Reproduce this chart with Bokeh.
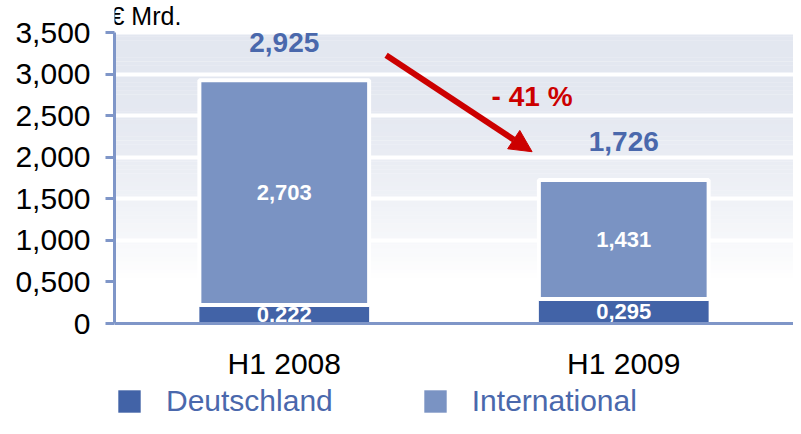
from bokeh.plotting import figure
from bokeh.models import (ColumnDataSource, FactorRange, Range1d, FixedTicker, BoxAnnotation,
                          Arrow, NormalHead, Legend, LegendItem, Span)
from bokeh.core.properties import value
from bokeh.embed import file_html
from bokeh.resources import INLINE

# ---------------- data ----------------
periods = ["H1 2008", "H1 2009"]
deutschland = [0.222, 0.295]
international = [2.703, 1.431]
totals = [2.925, 1.726]
deutschland_labels = ["0,222", "0,295"]
international_labels = ["2,703", "1,431"]
total_labels = ["2,925", "1,726"]
y_ticks = [0, 0.5, 1.0, 1.5, 2.0, 2.5, 3.0, 3.5]
y_tick_labels = ["0", "0,500", "1,000", "1,500", "2,000", "2,500", "3,000", "3,500"]
unit_label = "€ Mrd."
series_names = ["Deutschland", "International"]

# ---------------- styles / layout ----------------
FONT = "Liberation Sans"
DE_COLOR = "#4263A7"
INT_COLOR = "#7A93C3"
LABEL_BLUE = "#4A68AC"
AXIS_COLOR = "#7F96C8"
RED = "#CC0000"

W, H = 793, 418
TOP_PX, ZERO_PX = 32, 323          # pixel rows (from top) of y=3.5 and y=0
ppu = (ZERO_PX - TOP_PX) / (y_ticks[-1] - y_ticks[0])
y_hi = y_ticks[-1] + TOP_PX / ppu
y_lo = y_ticks[0] - (H - ZERO_PX) / ppu

pct = round((totals[1] / totals[0] - 1) * 100)
change_label = "- %d %%" % abs(pct)

src = ColumnDataSource(dict(
    period=periods,
    de=deutschland,
    total=[d + i for d, i in zip(deutschland, international)],
    de_mid=[d / 2 for d in deutschland],
    int_mid=[d + i / 2 for d, i in zip(deutschland, international)],
    de_label=deutschland_labels,
    int_label=international_labels,
    tot_label=total_labels,
    base=[y_ticks[0]] * len(periods),
))

p = figure(x_range=FactorRange(*periods), y_range=Range1d(y_lo, y_hi),
           width=W, height=H, output_backend="svg", toolbar_location=None,
           x_axis_location=None,
           min_border_left=114, min_border_right=0, min_border_top=0, min_border_bottom=0)
p.outline_line_color = None
p.background_fill_color = "white"
p.border_fill_color = "white"

# gradient background bands
top_rgb = (227, 231, 240)
n = 70
boxes = []
lo, hi = y_ticks[0], y_ticks[-1]
step = (hi - lo) / n
for k in range(n):
    yb = lo + k * step
    ym = yb + step / 2
    t = min(max((ym - 0.5) / 2.5, 0.0), 1.0)
    t = 1 - (1 - t) ** 1.6
    c = tuple(int(round(255 + (tc - 255) * t)) for tc in top_rgb)
    col = "#%02x%02x%02x" % c
    top = min(yb + step * 1.05, hi)
    boxes.append(BoxAnnotation(bottom=yb, top=top, fill_color=col, fill_alpha=1,
                               line_color=None, level="underlay"))
p.center = boxes + list(p.center)

p.xgrid.visible = False
p.ygrid.ticker = FixedTicker(ticks=y_ticks[1:])
p.ygrid.grid_line_color = "white"
p.ygrid.grid_line_width = 4

# bars
de_r = p.vbar(x="period", bottom=0, top="de", width=0.5, fill_color=DE_COLOR,
              line_color=None, source=src)
int_r = p.vbar(x="period", bottom="de", top="total", width=0.5, fill_color=INT_COLOR,
               line_color="white", line_width=4, source=src)

# value labels
p.text(x="period", y="de_mid", text="de_label", text_color="white", text_font=value(FONT),
       text_font_style="bold", text_font_size="22px", text_align="center",
       text_baseline="middle", source=src)
p.text(x="period", y="int_mid", text="int_label", text_color="white", text_font=value(FONT),
       text_font_style="bold", text_font_size="22px", text_align="center",
       text_baseline="middle", source=src)
p.text(x="period", y="total", text="tot_label", text_color=LABEL_BLUE, text_font=value(FONT),
       text_font_style="bold", text_font_size="28px", text_align="center",
       text_baseline="middle", y_offset=-38, source=src)

# x axis line and category labels
p.add_layout(Span(location=y_ticks[0], dimension="width", line_color=AXIS_COLOR, line_width=3))
p.text(x="period", y="base", text="period", text_color="black", text_font=value(FONT),
       text_font_size="30px", text_align="center", text_baseline="middle",
       y_offset=40, source=src)

# unit label above the y axis
p.text(x=[0], y=[y_ticks[-1]], text=[unit_label], text_color="black", text_font=value(FONT),
       text_font_size="25px", text_align="left", text_baseline="middle",
       x_offset=-4, y_offset=-17)

# arrow between totals
xs, ys = 0.5 + 0.3, totals[0] + 0.3
xe, ye = 1.5 - 0.27, totals[1] + 0.34
p.add_layout(Arrow(end=NormalHead(size=22, fill_color=RED, line_color=RED, line_width=1),
                   x_start=xs, y_start=ys, x_end=xe, y_end=ye,
                   line_color=RED, line_width=6))
p.text(x=[xe], y=[(ys + ye) / 2 + 0.08], text=[change_label], text_color=RED,
       text_font=value(FONT), text_font_style="bold", text_font_size="28px",
       text_align="center", text_baseline="middle")

# y axis
ya = p.yaxis[0]
ya.ticker = FixedTicker(ticks=y_ticks)
ya.bounds = (y_ticks[0], y_ticks[-1])
ya.major_label_overrides = dict(zip(y_ticks, y_tick_labels))
ya.axis_line_color = AXIS_COLOR
ya.axis_line_width = 3
ya.major_tick_line_color = AXIS_COLOR
ya.major_tick_line_width = 3
ya.major_tick_out = 9
ya.major_tick_in = 0
ya.minor_tick_line_color = None
ya.major_label_text_font = FONT
ya.major_label_text_font_size = "30px"
ya.major_label_text_color = "black"
ya.major_label_standoff = 15

# legend inside the frame, bottom-left (zero-height proxies for plain squares)
proxy = ColumnDataSource(dict(x=periods[:1], z=[y_ticks[0]]))
lg_de = p.vbar(x="x", bottom="z", top="z", width=0.5, fill_color=DE_COLOR, line_color=None,
               source=proxy)
lg_int = p.vbar(x="x", bottom="z", top="z", width=0.5, fill_color=INT_COLOR, line_color=None,
                source=proxy)
legend = Legend(items=[LegendItem(label=series_names[0], renderers=[lg_de]),
                       LegendItem(label=series_names[1], renderers=[lg_int])],
                orientation="horizontal", location=(1, 0),
                glyph_width=28, glyph_height=28, label_standoff=23, spacing=88,
                label_text_font=FONT, label_text_font_size="30px",
                label_text_color=LABEL_BLUE, border_line_color=None,
                background_fill_alpha=0, padding=0, margin=0)
p.add_layout(legend)

open("out.html", "w").write(file_html(p, INLINE))
